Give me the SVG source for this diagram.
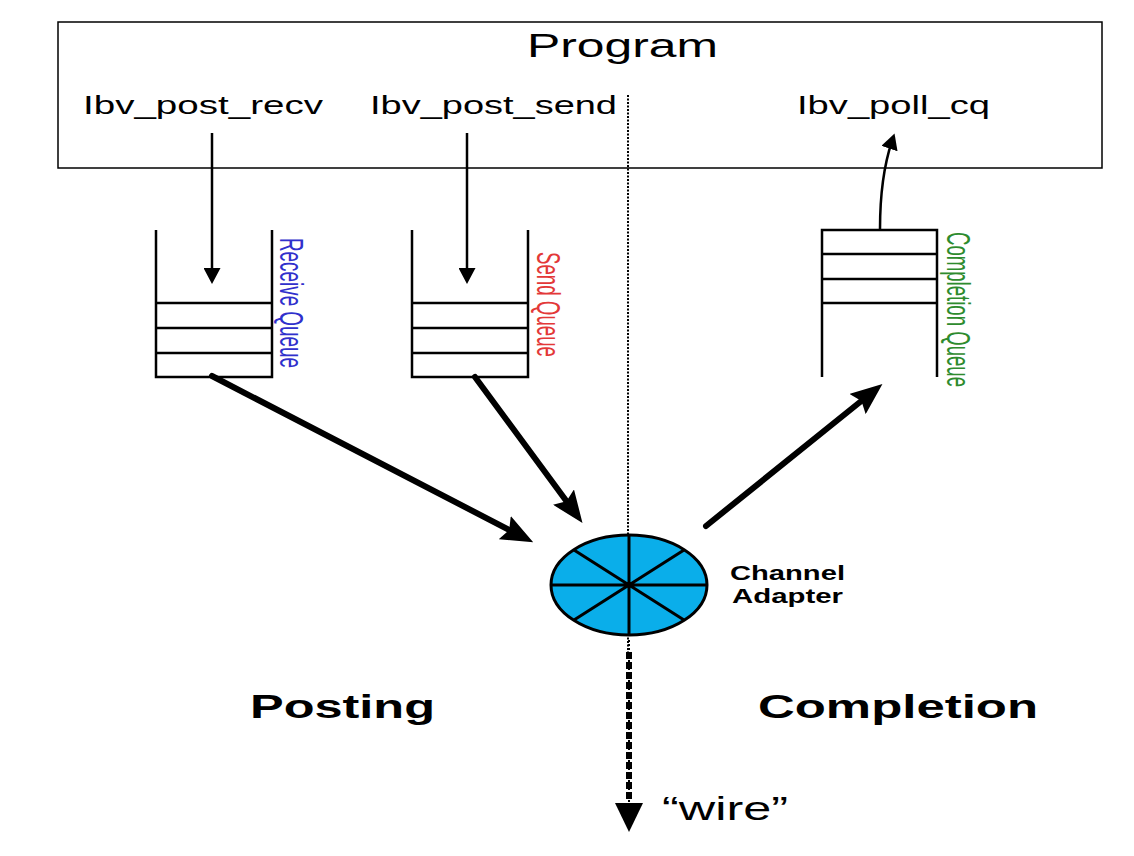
<svg xmlns="http://www.w3.org/2000/svg" width="1134" height="856" viewBox="0 0 1134 856">
<style>
text{font-family:"Liberation Sans",Arial,sans-serif;fill:#000}
.lbl{font-size:26px}
.big{font-weight:bold;font-size:34px}
.ca{font-weight:bold;font-size:20px}
.q{font-size:19px}
.qs{fill:none;stroke:#000;stroke-width:2.5}
.thin{fill:none;stroke:#000;stroke-width:2.5}
.thick{fill:none;stroke:#000;stroke-width:6;stroke-linecap:round}
</style>
<defs>
<marker id="bigHead" viewBox="0 0 32 26" refX="16" refY="13" markerWidth="32" markerHeight="26" markerUnits="userSpaceOnUse" orient="auto">
<path d="M0,0 L32,13 L0,26 L5,13 z" fill="#000"/>
</marker>
<marker id="smallHead" viewBox="0 0 16 17" refX="8" refY="8.5" markerWidth="16" markerHeight="17" markerUnits="userSpaceOnUse" orient="auto">
<path d="M0,0 L16,8.5 L0,17 z" fill="#000"/>
</marker>
</defs>
<rect width="1134" height="856" fill="#fff"/>

<g id="program">
<rect x="58" y="22" width="1044" height="146" fill="none" stroke="#000" stroke-width="1.5"/>
<text x="527" y="57" font-size="33" textLength="191" lengthAdjust="spacingAndGlyphs">Program</text>
<text class="lbl" x="83" y="114" textLength="240" lengthAdjust="spacingAndGlyphs">Ibv_post_recv</text>
<text class="lbl" x="370" y="114" textLength="247" lengthAdjust="spacingAndGlyphs">Ibv_post_send</text>
<text class="lbl" x="797" y="114" textLength="193" lengthAdjust="spacingAndGlyphs">Ibv_poll_cq</text>
</g>

<g id="divider">
<line x1="628" y1="95" x2="628" y2="655" stroke="#000" stroke-width="2" stroke-dasharray="2,1.5"/>
</g>

<g id="receive-queue">
<path class="qs" d="M156,230 V377 H272 V230 M156,303 H272 M156,328 H272 M156,353 H272"/>
<text class="q" transform="translate(280,238) scale(1.7,1) rotate(90)" textLength="130" lengthAdjust="spacingAndGlyphs" style="fill:#3030cc">Receive Queue</text>
</g>

<g id="send-queue">
<path class="qs" d="M412,230 V377 H528 V230 M412,303 H528 M412,328 H528 M412,353 H528"/>
<text class="q" transform="translate(537,252) scale(1.7,1) rotate(90)" textLength="105" lengthAdjust="spacingAndGlyphs" style="fill:#e33838">Send Queue</text>
</g>

<g id="completion-queue">
<path class="qs" d="M822,377 V230 H937 V377 M822,254 H937 M822,279 H937 M822,303 H937"/>
<text class="q" transform="translate(947,232) scale(1.7,1) rotate(90)" textLength="155" lengthAdjust="spacingAndGlyphs" style="fill:#2e8b2e">Completion Queue</text>
</g>

<g id="channel-adapter">
<ellipse cx="629" cy="585" rx="78" ry="50" fill="#0aaeea" stroke="#000" stroke-width="3"/>
<path d="M629,535 V635 M551,585 H707 M574,550 L684,620 M684,550 L574,620" stroke="#000" stroke-width="3" fill="none"/>
<text class="ca" x="730" y="580" textLength="115" lengthAdjust="spacingAndGlyphs">Channel</text>
<text class="ca" x="732" y="603" textLength="111" lengthAdjust="spacingAndGlyphs">Adapter</text>
</g>

<g id="labels">
<text class="big" x="250" y="718" textLength="185" lengthAdjust="spacingAndGlyphs">Posting</text>
<text class="big" x="758" y="718" textLength="280" lengthAdjust="spacingAndGlyphs">Completion</text>
<text x="662" y="820" font-size="33" textLength="126" lengthAdjust="spacingAndGlyphs">“wire”</text>
</g>

<g id="connectors">
<line class="thin" x1="212" y1="133" x2="212" y2="276" marker-end="url(#smallHead)"/>
<line class="thin" x1="467" y1="133" x2="467" y2="276" marker-end="url(#smallHead)"/>
<path class="thin" d="M880,229 C880,190 884,165 892,141" stroke-width="1.8" marker-end="url(#smallHead)"/>
<line class="thick" x1="212" y1="376" x2="519" y2="535" marker-end="url(#bigHead)"/>
<line class="thick" x1="475" y1="377" x2="573" y2="510" marker-end="url(#bigHead)"/>
<line class="thick" x1="706" y1="526" x2="870" y2="394" marker-end="url(#bigHead)"/>
<line x1="629" y1="640" x2="629" y2="805" stroke="#000" stroke-width="2" stroke-dasharray="2,2"/>
<line x1="629" y1="652" x2="629" y2="800" stroke="#000" stroke-width="6" stroke-dasharray="7,3"/>
<path d="M615,803 L643,803 L629,832 z" fill="#000"/>
</g>
</svg>
